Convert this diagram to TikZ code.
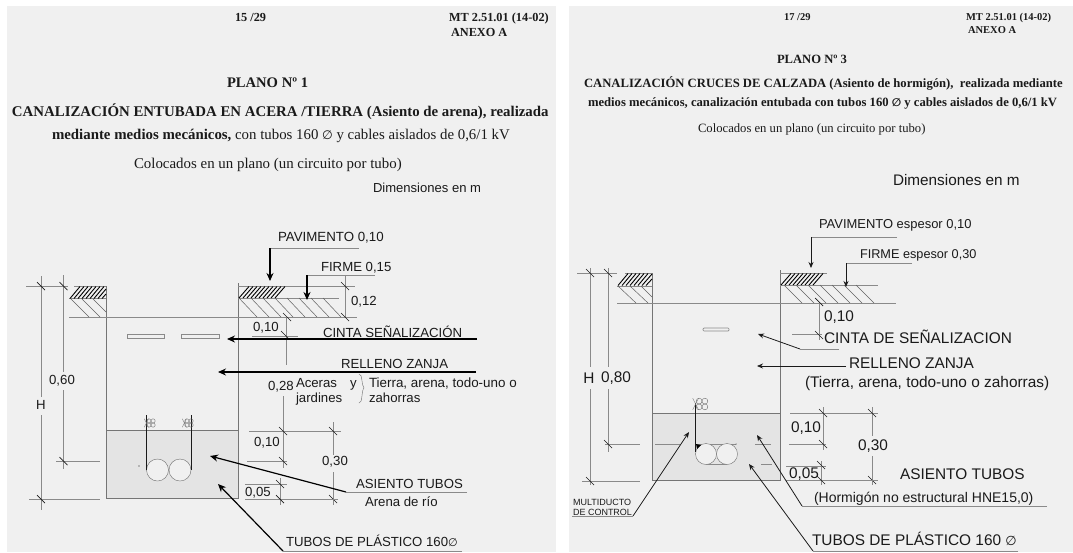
\documentclass[tikz,border=0pt]{standalone}
\usepackage{fontspec}
\setmainfont{Liberation Serif}
\setsansfont{Liberation Sans}
\newfontfamily\symf{DejaVu Sans}
\usetikzlibrary{arrows.meta}
\definecolor{panel}{HTML}{F0F0F0}
\definecolor{fillz}{HTML}{E4E4E4}
\definecolor{ln}{HTML}{8A8A8A}
\definecolor{ink}{HTML}{1A1A1A}
\newcommand{\fs}[1]{\fontsize{#1}{#1}\selectfont}
\newcommand{\dia}{{\symf\char"2205}}
\newcommand{\tickm}[2]{\draw[tk] (#1-4,#2-4) -- (#1+4,#2+4);}
\newcommand{\cluster}[3]{\foreach \dx/\dy in {-1/-1,1/-1,-1/1,1/1}{\draw[thinl] (#1+\dx*#3,#2+\dy*#3) circle (#3pt);}
  \draw[thinl] (#1-3.2*#3,#2-2*#3) -- (#1-1.2*#3,#2+2*#3) (#1-3.2*#3,#2+2*#3) -- (#1-1.2*#3,#2-2*#3);}
\tikzset{
  txt/.style={anchor=base west,inner sep=0pt,outer sep=0pt,text=ink,font=\sffamily},
  ctr/.style={anchor=center,inner sep=0pt,outer sep=0pt,text=ink,font=\sffamily},
  ser/.style={anchor=base west,inner sep=0pt,outer sep=0pt,text=ink,font=\rmfamily},
  serb/.style={anchor=base west,inner sep=0pt,outer sep=0pt,text=ink,font=\rmfamily\bfseries},
  ln1/.style={draw=ln,line width=0.7pt},
  thinl/.style={draw=ln!80!black,line width=0.4pt},
  wall/.style={draw=ln!85!black,line width=0.8pt},
  tk/.style={draw=ink,line width=0.7pt},
  hatchl/.style={draw=ln!70!black,line width=0.5pt},
  hatchd/.style={draw=black,line width=0.9pt},
  leadA/.style={draw=black,line width=1.2pt,-{Stealth[length=8pt,width=7pt]}},
  leadB/.style={draw=ink,line width=0.8pt,-{Stealth[length=6pt,width=5pt]}},
}
\begin{document}
\begin{tikzpicture}[x=1pt,y=-1pt]
\useasboundingbox (0,0) rectangle (1073,552);
\fill[white] (0,0) rectangle (1073,552);
\fill[panel] (7,6) rectangle (556,552);
\fill[panel] (569,6) rectangle (1073,552);

% ===== LEFT SHEET HEADER =====
\node[serb,font=\rmfamily\bfseries\fs{12.3}] (lpage) at (235,21) {15 /29};
\node[serb,font=\rmfamily\bfseries\fs{12.3}] (lmt) at (449,21.5) {MT 2.51.01 (14-02)};
\node[serb,font=\rmfamily\bfseries\fs{12.3}] (lanx) at (451,36) {ANEXO A};
\node[serb,font=\rmfamily\bfseries\fs{14.6}] (lplano) at (227,87.5) {PLANO Nº 1};
\node[serb,font=\rmfamily\bfseries\fs{14.84}] (lt1) at (12,116) {CANALIZACIÓN ENTUBADA EN ACERA /TIERRA (Asiento de arena), realizada};
\node[ser,font=\rmfamily\fs{14.85}] (lt2) at (52,139) {\textbf{mediante medios mecánicos,} con tubos 160 {\fs{12.3}\dia} y cables aislados de 0,6/1 kV};
\node[ser,font=\rmfamily\fs{14.9}] (lt3) at (134,168.5) {Colocados en un plano (un circuito por tubo)};
\node[txt,font=\sffamily\fs{13.05}] (ldim) at (373,192) {Dimensiones en m};

% ===== LEFT DRAWING =====
\fill[fillz] (106,430) rectangle (238,498);
\draw[wall] (106,286) -- (106,498) -- (238,498) -- (238,283);
\draw[wall] (106,430) -- (238,430);
\draw[ln1] (69,317) -- (357,317);
\draw[ln1] (74,286) -- (106,286);
\draw[ln1] (69,298.5) -- (106,298.5);
\draw[ln1] (238,286) -- (355,286);
\draw[ln1] (238,298) -- (339,298);
\foreach \x in {70,74,...,94}{\draw[hatchd] (\x,298.5) -- (\x+10,286.5);}
\draw[hatchd] (98,298.5) -- (106,289);
\draw[hatchd] (102,298.5) -- (106,294);
\foreach \x in {239,243,...,275}{\draw[hatchd] (\x,298) -- (\x+10,286.5);}
\foreach \x in {71,82,93}{\draw[hatchl] (\x,299) -- ({min(\x+18,106)},{min(317,299+(106-\x))});}
\foreach \x in {238,250,262,274,286,298,310,322}{\draw[hatchl] (\x+1,298) -- (\x+19,317);}
% tape
\draw[ln1,fill=panel] (127,334) rectangle (164,338);
\draw[ln1,fill=panel] (181,334) rectangle (219,338);
% tubes
\draw[thinl,fill=panel] (157.5,470) circle (11pt);
\draw[thinl,fill=panel] (180,470) circle (11pt);
\draw[ink,line width=0.6pt] (146,415) -- (146,470);
\draw[ink,line width=0.6pt] (191.5,415) -- (191.5,470);
\cluster{151}{423}{2.1}\cluster{189}{423}{2.1}
\fill[ink] (139,466) circle (0.6pt);
% H and 0,60
\draw[ln1] (41,276) -- (41,397) (41,415) -- (41,510);
\draw[ln1] (26,286) -- (68,286);
\draw[ln1] (29,499) -- (100,499);
\tickm{41}{286}\tickm{41}{499}
\node[ctr,font=\sffamily\fs{13.2}] (lH) at (41,405) {H};
\draw[ln1] (63.5,275) -- (63.5,372) (63.5,390) -- (63.5,469);
\draw[ln1] (56,461) -- (100,461);
\tickm{63.5}{286}\tickm{63.5}{461}
\node[ctr,font=\sffamily\fs{13.2}] (l060) at (62,381) {0,60};
% pavement / firm
\coordinate (lpa) at (359,248); \coordinate (lpb) at (270,248); \coordinate (lpc) at (270,281);
\draw[ln1] (lpa) -- (lpb);
\draw[leadA] (lpb) -- (lpc);
\node[txt,font=\sffamily\fs{13.3}] (lpav) at (278,241) {PAVIMENTO 0,10};
\coordinate (lfa) at (375,275); \coordinate (lfb) at (307,275); \coordinate (lfc) at (307,300);
\draw[ln1] (lfa) -- (lfb);
\draw[leadA] (lfb) -- (lfc);
\node[txt,font=\sffamily\fs{13.2}] (lfir) at (321,271) {FIRME 0,15};
% dims right
\draw[ln1] (345,275) -- (345,317);
\tickm{345}{286}\tickm{345}{317}
\node[txt,font=\sffamily\fs{13.2}] (l012) at (351,305) {0,12};
\draw[ln1] (286,317) -- (286,365);
\draw[ln1] (252,336) -- (298,336);
\tickm{287}{317}\tickm{285}{335}
\node[txt,font=\sffamily\fs{13.2}] (l010a) at (253,331) {0,10};
\node[txt,font=\sffamily\fs{13.2}] (lcinta) at (323,337) {CINTA SEÑALIZACIÓN};
\coordinate (lca) at (477,339); \coordinate (lcb) at (227,339);
\draw[leadA] (lca) -- (lcb);
\node[txt,font=\sffamily\fs{13.2}] (lrel) at (341,368) {RELLENO ZANJA};
\coordinate (lra) at (476,372); \coordinate (lrb) at (218,372);
\draw[leadA] (lra) -- (lrb);
\node[txt,font=\sffamily\fs{13.2}] (l028) at (268,390) {0,28};
\node[txt,font=\sffamily\fs{13.2}] (lac) at (296,387) {Aceras};
\node[txt,font=\sffamily\fs{13.2}] (ly) at (350,387) {y};
\node[txt,font=\sffamily\fs{13.2}] (ljar) at (296,402) {jardines};
\draw[thinl] (359,374) .. controls (363,374) and (361,385) .. (364,388) .. controls (361,391) and (363,403) .. (359,403);
\node[txt,font=\sffamily\fs{13.4}] (ltie) at (369,387) {Tierra, arena, todo-uno o};
\node[txt,font=\sffamily\fs{13.2}] (lzah) at (369,402) {zahorras};
\draw[ln1] (283,396) -- (283,468);
\draw[ln1] (249,431) -- (341,431);
\draw[ln1] (247,461) -- (287,461);
\tickm{283}{431}\tickm{283}{461}
\node[txt,font=\sffamily\fs{13.2}] (l010b) at (254,446) {0,10};
\draw[ln1] (333,422) -- (333,455) (333,472) -- (333,505);
\tickm{333}{431}\tickm{333}{499}
\node[ctr,font=\sffamily\fs{13.2}] (l030) at (335,462) {0,30};
\draw[ln1] (280,478) -- (280,505);
\draw[ln1] (245,484) -- (287,484);
\draw[ln1] (245,499) -- (338,499);
\tickm{280}{484}\tickm{280}{499}
\node[txt,font=\sffamily\fs{13.2}] (l005) at (245,496) {0,05};
% leaders
\node[txt,font=\sffamily\fs{13.2}] (lasi) at (356,488) {ASIENTO TUBOS};
\node[txt,font=\sffamily\fs{13.2}] (lare) at (365,506) {Arena de río};
\coordinate (laa) at (467,492); \coordinate (lab) at (346,492); \coordinate (lac2) at (210,456);
\draw[ln1] (laa) -- (lab);
\draw[leadA] (lab) -- (lac2);
\node[txt,font=\sffamily\fs{13.2}] (ltub) at (286,546) {TUBOS DE PLÁSTICO 160{\fs{11}\dia}};
\coordinate (lta) at (462,551); \coordinate (ltb) at (283,551); \coordinate (ltc) at (218,484);
\draw[ln1] (lta) -- (ltb);
\draw[leadA] (ltb) -- (ltc);

% ===== RIGHT SHEET HEADER =====
\node[serb,font=\rmfamily\bfseries\fs{10.5}] (rpage) at (784,20) {17 /29};
\node[serb,font=\rmfamily\bfseries\fs{10.5}] (rmt) at (966,20) {MT 2.51.01 (14-02)};
\node[serb,font=\rmfamily\bfseries\fs{10.5}] (ranx) at (968,33) {ANEXO A};
\node[serb,font=\rmfamily\bfseries\fs{12.6}] (rplano) at (777,63) {PLANO Nº 3};
\node[serb,font=\rmfamily\bfseries\fs{12.66}] (rt1) at (584,87) {CANALIZACIÓN CRUCES DE CALZADA (Asiento de hormigón),\ \ realizada mediante};
\node[serb,font=\rmfamily\bfseries\fs{12.66}] (rt2) at (588,106) {medios mecánicos, canalización entubada con tubos 160 {\fs{11}\dia} y cables aislados de 0,6/1 kV};
\node[ser,font=\rmfamily\fs{12.66}] (rt3) at (698,132) {Colocados en un plano (un circuito por tubo)};
\node[txt,font=\sffamily\fs{15.3}] (rdim) at (893,185) {Dimensiones en m};

% ===== RIGHT DRAWING =====
\fill[fillz] (652,413) rectangle (780,480);
\draw[wall] (652,273) -- (652,480) -- (780,480) -- (780,270);
\draw[wall] (652,413) -- (780,413);
\draw[ln1] (617,303) -- (896,303);
\draw[ln1] (625,273) -- (652,273);
\draw[ln1] (617,286) -- (652,286);
\draw[ln1] (780,273) -- (827,273);
\draw[ln1] (780,285) -- (878,285);
\foreach \x in {618,622,...,638}{\draw[hatchd] (\x,285.5) -- (\x+10,273.5);}
\draw[hatchd] (642,285.5) -- (652,274);
\draw[hatchd] (646,285.5) -- (652,279);
\foreach \x in {781,785,...,813}{\draw[hatchd] (\x,285) -- (\x+10,273.5);}
\foreach \x in {618,630,641}{\draw[hatchl] (\x,286) -- ({min(\x+18,652)},{min(303,286+(652-\x))});}
\foreach \x in {784,796,808,820,832,844,856}{\draw[hatchl] (\x,285) -- (\x+18,303);}
% tape
\draw[ln1,fill=panel,rounded corners=1pt] (703,328) rectangle (729,331);
% tubes
\draw[ln1] (695,444) -- (736,444) (706,464) -- (727,464);
\draw[thinl,fill=panel] (706,454) circle (10.5pt);
\draw[thinl,fill=panel] (727,454) circle (10.5pt);
\draw[ink,line width=0.6pt] (695,403) -- (695,452);
\fill[black] (696,444) -- (701,445) -- (697,449) -- cycle;
\cluster{702}{404}{2.9}
\fill[ink] (736,444) circle (0.5pt);
% H and 0,80
\draw[ln1] (590,268) -- (590,367) (590,389) -- (590,485);
\draw[ln1] (577,273) -- (617,273);
\draw[ln1] (582,481) -- (640,481);
\tickm{590}{273}\tickm{590}{481}
\node[ctr,font=\sffamily\fs{15.4}] (rH) at (589,378) {H};
\draw[ln1] (608,268) -- (608,367) (608,389) -- (608,452);
\draw[ln1] (605,444) -- (640,444);
\tickm{608}{273}\tickm{608}{444}
\node[ctr,font=\sffamily\fs{15.4}] (r080) at (616,378) {0,80};
\draw[ln1] (655,444) -- (680,444) (755,444) -- (771,444) (761,464) -- (772,464);
% pavement, firm
\coordinate (rpa) at (897,237); \coordinate (rpb) at (811,237); \coordinate (rpc) at (811,268);
\draw[ln1] (rpa) -- (rpb);
\draw[leadB] (rpb) -- (rpc);
\node[txt,font=\sffamily\fs{12.95}] (rpav) at (819,228) {PAVIMENTO espesor 0,10};
\coordinate (rfa) at (912,263); \coordinate (rfb) at (846,263); \coordinate (rfc) at (846,287);
\draw[ln1] (rfa) -- (rfb);
\draw[leadB] (rfb) -- (rfc);
\node[txt,font=\sffamily\fs{12.7}] (rfir) at (860,258) {FIRME espesor 0,30};
% dims
\draw[ln1] (819,303) -- (819,340);
\draw[ln1] (792,334) -- (822,334);
\tickm{819}{302}\tickm{819}{335}
\node[txt,font=\sffamily\fs{15.4}] (r010a) at (824,321) {0,10};
\node[txt,font=\sffamily\fs{15.4}] (rcinta) at (824,343) {CINTA DE SEÑALIZACION};
\coordinate (rca) at (839,349); \coordinate (rcb) at (800,349); \coordinate (rcc) at (758,334);
\draw[ln1] (rca) -- (rcb);
\draw[leadB] (rcb) -- (rcc);
\node[txt,font=\sffamily\fs{15.4}] (rrel) at (849,368) {RELLENO ZANJA};
\coordinate (rra) at (846,366); \coordinate (rrb) at (757,366);
\draw[leadB] (rra) -- (rrb);
\node[txt,font=\sffamily\fs{15.4}] (rtie) at (805,387) {(Tierra, arena, todo-uno o zahorras)};
\draw[ln1] (823,407) -- (823,450);
\draw[ln1] (790,413) -- (878,413);
\draw[ln1] (789,444) -- (826,444);
\tickm{823}{413}\tickm{823}{444}
\node[txt,font=\sffamily\fs{15.4}] (r010b) at (791,432) {0,10};
\draw[ln1] (872,407) -- (872,436) (872,456) -- (872,485);
\tickm{872}{413}\tickm{872}{480}
\node[ctr,font=\sffamily\fs{15.4}] (r030) at (873,446) {0,30};
\draw[ln1] (821,461) -- (821,485);
\draw[ln1] (786,466) -- (826,466);
\draw[ln1] (786,480) -- (878,480);
\tickm{821}{465}\tickm{821}{480}
\node[txt,font=\sffamily\fs{15.4}] (r005) at (789,478) {0,05};
% leaders
\node[txt,font=\sffamily\fs{15.4}] (rasi) at (900,479) {ASIENTO TUBOS};
\node[txt,font=\sffamily\fs{14}] (rhor) at (814,502) {(Hormigón no estructural HNE15,0)};
\coordinate (raa) at (1047,506); \coordinate (rab) at (802,506); \coordinate (rac) at (757,435);
\draw[ln1] (raa) -- (rab);
\draw[leadB] (rab) -- (rac);
\node[txt,font=\sffamily\fs{15.4}] (rtub) at (812,545) {TUBOS DE PLÁSTICO 160 {\fs{13}\dia}};
\coordinate (rta) at (1018,551); \coordinate (rtb) at (813,551); \coordinate (rtc) at (749,464);
\draw[ln1] (rta) -- (rtb);
\draw[leadB] (rtb) -- (rtc);
\node[txt,font=\sffamily\fs{9}] (rmul) at (573,505) {MULTIDUCTO};
\node[txt,font=\sffamily\fs{9}] (rdec) at (573,515) {DE CONTROL};
\coordinate (rma) at (572,516); \coordinate (rmb) at (633,516); \coordinate (rmc) at (689,432);
\draw[ln1] (rma) -- (rmb);
\draw[leadB] (rmb) -- (rmc);
\end{tikzpicture}
\end{document}
